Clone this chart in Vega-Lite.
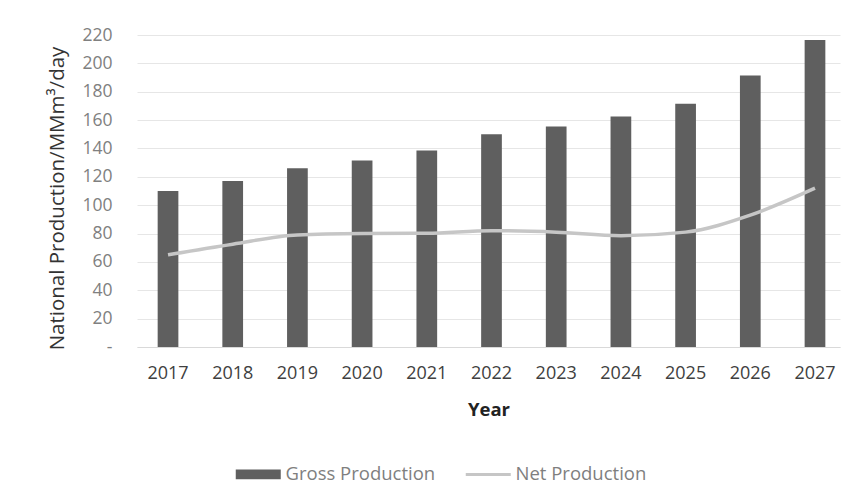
{
  "$schema": "https://vega.github.io/schema/vega-lite/v6.json",
  "width": 703,
  "height": 312,
  "autosize": "none",
  "padding": {"left": 137, "top": 35, "right": 19, "bottom": 157},
  "background": "white",
  "config": {
    "view": {"stroke": null},
    "font": "Open Sans"
  },
  "data": {
    "values": [
      {"year": "2017", "gross": 110, "net": 65},
      {"year": "2018", "gross": 117, "net": 72.5},
      {"year": "2019", "gross": 126, "net": 79},
      {"year": "2020", "gross": 131.5, "net": 80},
      {"year": "2021", "gross": 138.5, "net": 80.2},
      {"year": "2022", "gross": 150, "net": 82},
      {"year": "2023", "gross": 155.5, "net": 81},
      {"year": "2024", "gross": 162.5, "net": 78.5},
      {"year": "2025", "gross": 171.5, "net": 81},
      {"year": "2026", "gross": 191.5, "net": 93},
      {"year": "2027", "gross": 216.5, "net": 112}
    ]
  },
  "encoding": {
    "x": {
      "field": "year",
      "type": "ordinal",
      "scale": {"paddingInner": 0.68, "paddingOuter": 0.273, "align": 0.585},
      "axis": {
        "title": "Year",
        "labelAngle": 0,
        "labelFontSize": 18,
        "labelColor": "#404040",
        "labelPadding": 17,
        "ticks": false,
        "domainColor": "#d9d9d9",
        "titleFontSize": 18.5,
        "titleFontWeight": "bold",
        "titleColor": "#222222",
        "titlePadding": 18
      }
    }
  },
  "layer": [
    {
      "mark": {"type": "bar", "color": "#5f5f5f"},
      "encoding": {
        "y": {
          "field": "gross",
          "type": "quantitative",
          "scale": {"domain": [0, 220], "nice": false},
          "axis": {
            "title": "National Production/MMm³/day",
            "values": [0, 20, 40, 60, 80, 100, 120, 140, 160, 180, 200, 220],
            "labelExpr": "datum.value == 0 ? '-' : datum.label",
            "labelOverlap": false,
            "labelFontSize": 17.5,
            "labelColor": "#808080",
            "labelPadding": 25,
            "ticks": false,
            "domain": false,
            "gridColor": "#e6e6e6",
            "titleFontSize": 20.5,
            "titleFontWeight": "normal",
            "titleColor": "#333333",
            "titlePadding": 14,
            "titleY": 163
          }
        },
        "color": {
          "datum": "Gross Production",
          "type": "nominal",
          "scale": {"domain": ["Gross Production", "Net Production"], "range": ["#5f5f5f", "#c6c6c6"]},
          "legend": {
            "title": null,
            "orient": "none",
            "direction": "horizontal",
            "legendX": 112,
            "legendY": 430,
            "symbolSize": 2025,
            "symbolStrokeWidth": 3,
            "labelFontSize": 18.5,
            "labelColor": "#7f7f7f",
            "labelOffset": 18,
            "columnPadding": 23,
            "encode": {
              "symbols": {
                "update": {
                  "shape": {"signal": "datum.value == 'Net Production' ? 'stroke' : 'M-1,-0.22H1V0.22H-1Z'"},
                  "fill": {"signal": "datum.value == 'Net Production' ? 'transparent' : '#5f5f5f'"},
                  "stroke": {"signal": "datum.value == 'Net Production' ? '#c6c6c6' : '#5f5f5f'"},
                  "strokeWidth": {"signal": "datum.value == 'Net Production' ? 3 : 0"}
                }
              }
            }
          }
        }
      }
    },
    {
      "mark": {"type": "line", "strokeWidth": 3.5, "interpolate": "monotone"},
      "encoding": {
        "y": {
          "field": "net",
          "type": "quantitative",
          "axis": {
            "title": "National Production/MMm³/day",
            "values": [0, 20, 40, 60, 80, 100, 120, 140, 160, 180, 200, 220],
            "labelExpr": "datum.value == 0 ? '-' : datum.label",
            "labelOverlap": false,
            "labelFontSize": 17.5,
            "labelColor": "#808080",
            "labelPadding": 25,
            "ticks": false,
            "domain": false,
            "gridColor": "#e6e6e6",
            "titleFontSize": 20.5,
            "titleFontWeight": "normal",
            "titleColor": "#333333",
            "titlePadding": 14,
            "titleY": 163
          }
        },
        "color": {"datum": "Net Production", "type": "nominal"}
      }
    }
  ]
}
